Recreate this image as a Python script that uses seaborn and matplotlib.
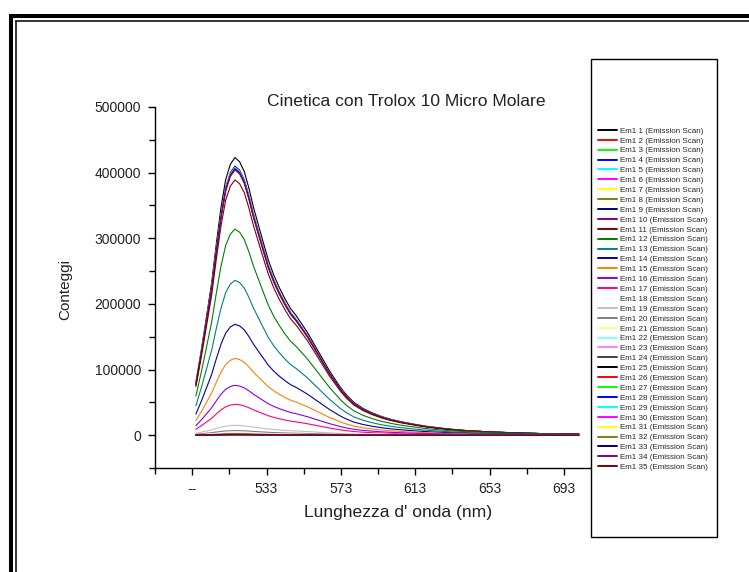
import numpy as np
import pandas as pd
import matplotlib.pyplot as plt
import seaborn as sns
from matplotlib.lines import Line2D
from matplotlib.patches import Rectangle

# emission wavelength grid (nm) and normalised spectrum shape
wavelength = [495, 498, 501, 503.5, 506, 508.5, 511, 513.5, 516, 518.5, 521, 523.5,
              526, 528.5, 531, 534, 537, 540, 543, 546, 549, 552, 555, 558, 561,
              564, 567, 570, 573, 576, 580, 585, 590, 595, 600, 605, 612, 620, 630,
              640, 653, 665, 680, 693, 701]
shape = [0.19, 0.31, 0.44, 0.55, 0.69, 0.82, 0.92, 0.975, 1.00, 0.985, 0.95, 0.89,
         0.82, 0.76, 0.70, 0.63, 0.575, 0.53, 0.49, 0.455, 0.43, 0.40, 0.37, 0.335, 0.30,
         0.265, 0.23, 0.20, 0.17, 0.145, 0.118, 0.096, 0.08, 0.067, 0.057, 0.049, 0.04,
         0.031, 0.023, 0.017, 0.012, 0.009, 0.006, 0.005, 0.004]

# peak counts of each of the 35 scans
peaks = [423000, 408000, 408000, 410000, 408000, 407000, 407000, 406000, 406000, 404000,
         389000, 314000, 236000, 169000, 117000, 76000, 47000, 25000, 15000, 7000,
         3500, 2500, 2000, 1600, 1300, 1200, 1100, 1000, 950, 900, 850, 800, 700, 650, 600]
labels = [f'Em1 {i} (Emission Scan)' for i in range(1, 36)]

origin_colors = ['#000000', '#FF0000', '#00FF00', '#0000FF', '#00FFFF', '#FF00FF',
                 '#FFFF00', '#808000', '#000080', '#800080', '#800000', '#008000',
                 '#008080', '#0000A0', '#FF8000', '#8000FF', '#FF0080', '#FFFFFF',
                 '#C0C0C0', '#808080', '#FFFF80', '#80FFFF', '#FF80FF', '#404040']
colors = (origin_colors * 2)[:35]

rows = []
for lab, pk in zip(labels, peaks):
    for w, s in zip(wavelength, shape):
        rows.append((lab, w, pk * s))
df = pd.DataFrame(rows, columns=['scan', 'wl', 'counts'])
df['scan'] = pd.Categorical(df['scan'], categories=labels, ordered=True)

sns.set_theme(style='white')
plt.rcParams['font.family'] = ['Liberation Sans', 'DejaVu Sans']

W, H = 749, 572
fig = plt.figure(figsize=(W / 100, H / 100), dpi=100)
ax = fig.add_axes([155 / W, 1 - 468 / H, 435 / W, 361 / H])

sns.lineplot(data=df, x='wl', y='counts', hue='scan', hue_order=labels,
             palette=colors, linewidth=0.8, legend=False, ax=ax, sort=False)

ax.set_xlim(473, 707)
ax.set_ylim(-50000, 500000)
ax.set_xticks([493, 533, 573, 613, 653, 693])
ax.set_xticklabels(['--', '533', '573', '613', '653', '693'])
ax.set_xticks([473, 513, 553, 593, 633, 673], minor=True)
ax.set_yticks([0, 100000, 200000, 300000, 400000, 500000])
ax.set_yticklabels(['0', '100000', '200000', '300000', '400000', '500000'])
ax.set_yticks([-50000, 50000, 150000, 250000, 350000, 450000], minor=True)
ax.tick_params(which='both', direction='out', color='black', labelsize=10,
               labelcolor='#222222', width=1, bottom=True, left=True)
ax.tick_params(which='major', length=5, pad=5)
ax.tick_params(which='minor', length=4)
ax.set_xlabel('')
ax.set_ylabel('')
for side in ['top', 'right']:
    ax.spines[side].set_visible(False)
for side in ['left', 'bottom']:
    ax.spines[side].set_color('black')
    ax.spines[side].set_linewidth(1)

fig.text(406 / W, 1 - 101 / H, 'Cinetica con Trolox 10 Micro Molare',
         ha='center', va='center', fontsize=12.6, color='#222222')
fig.text(65 / W, 1 - 289 / H, 'Conteggi', rotation=90,
         ha='center', va='center', fontsize=11, color='#222222')
fig.text(398 / W, 1 - 513 / H, "Lunghezza d' onda (nm)",
         ha='center', va='center', fontsize=12.6, color='#222222')

# legend box
fig.add_artist(Rectangle((591 / W, 1 - 537 / H), 126 / W, 478 / H,
                         transform=fig.transFigure, fill=False,
                         edgecolor='black', linewidth=1))
handles = [Line2D([], [], color=c, linewidth=1.4) for c in colors]
ax.legend(handles=handles, labels=labels, loc='upper left',
          bbox_to_anchor=(598 / W, 1 - 127 / H), bbox_transform=fig.transFigure,
          frameon=False, fontsize=5.8, labelspacing=0.28, handlelength=2.3,
          handletextpad=0.4, borderpad=0, borderaxespad=0)

# outer double frame
fig.add_artist(Line2D([9 / W, 1], [1 - 16.3 / H] * 2, transform=fig.transFigure,
                      color='black', linewidth=2.9, solid_capstyle='butt'))
fig.add_artist(Line2D([11.2 / W] * 2, [1 - 14.3 / H, 0], transform=fig.transFigure,
                      color='black', linewidth=2.9, solid_capstyle='butt'))
fig.add_artist(Line2D([15 / W, 1], [1 - 21 / H] * 2, transform=fig.transFigure,
                      color='black', linewidth=1.1, solid_capstyle='butt'))
fig.add_artist(Line2D([15.8 / W] * 2, [1 - 20.5 / H, 0], transform=fig.transFigure,
                      color='black', linewidth=1.1, solid_capstyle='butt'))

fig.savefig('out.png', dpi=100)
